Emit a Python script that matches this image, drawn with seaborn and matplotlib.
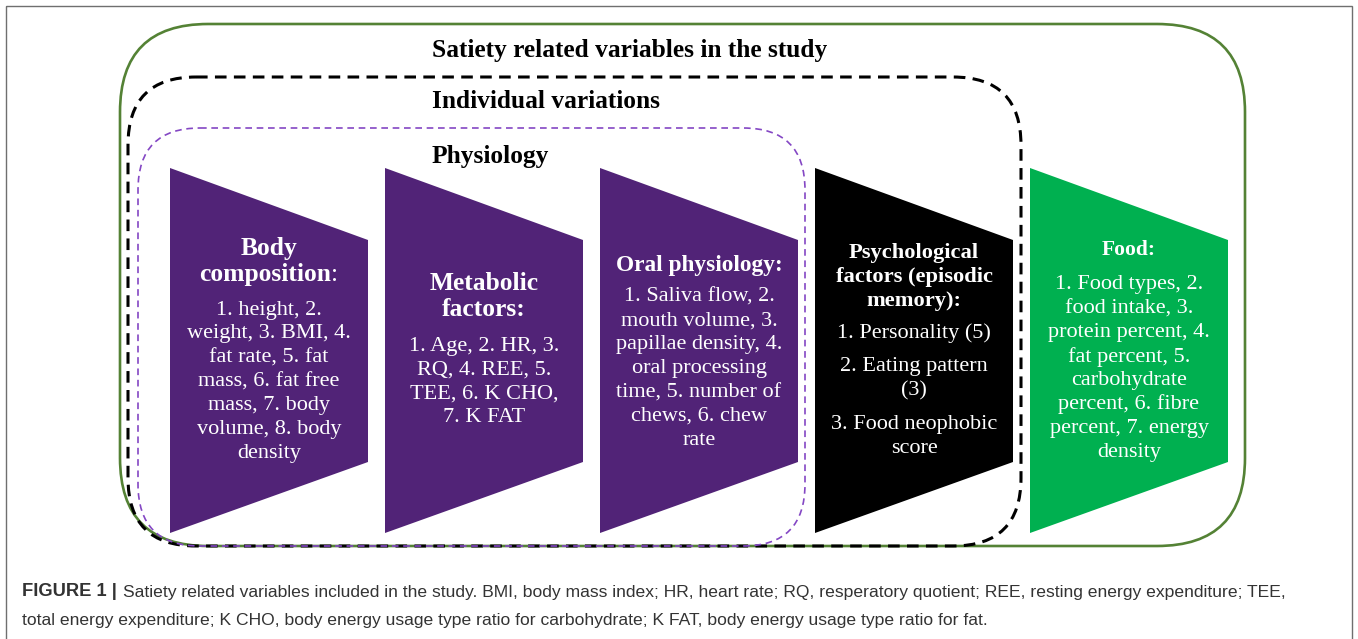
import matplotlib
matplotlib.use("Agg")
import matplotlib.pyplot as plt
from matplotlib.patches import FancyBboxPatch, Polygon, Rectangle
import seaborn as sns

sns.set_theme(style="white")
plt.rcParams['font.family'] = ['Liberation Serif', 'DejaVu Serif']

# ---------------- data ----------------
box_titles = ["Satiety related variables in the study", "Individual variations", "Physiology"]
categories = ["Body composition", "Metabolic factors", "Oral physiology",
              "Psychological factors", "Food"]
headings = [["Body", "composition"],
            ["Metabolic", "factors:"],
            ["Oral physiology:"],
            ["Psychological", "factors (episodic", "memory):"],
            ["Food:"]]
heading_suffix = [":", "", "", "", ""]
items = [[["1. height, 2.", "weight, 3. BMI, 4.", "fat rate, 5. fat", "mass, 6. fat free",
           "mass, 7. body", "volume, 8. body", "density"]],
         [["1. Age, 2. HR, 3.", "RQ, 4. REE, 5.", "TEE, 6. K CHO,", "7. K FAT"]],
         [["1. Saliva flow, 2.", "mouth volume, 3.", "papillae density, 4.", "oral processing",
           "time, 5. number of", "chews, 6. chew", "rate"]],
         [["1. Personality (5)"], ["2. Eating pattern", "(3)"], ["3. Food neophobic", "score"]],
         [["1. Food types, 2.", "food intake, 3.", "protein percent, 4.", "fat percent, 5.",
           "carbohydrate", "percent, 6. fibre", "percent, 7. energy", "density"]]]
shape_colors = ["#512377", "#512377", "#512377", "#000000", "#00B050"]
caption_bold = "FIGURE 1 |"
caption_lines = ["Satiety related variables included in the study. BMI, body mass index; HR, heart rate; RQ, resperatory quotient; REE, resting energy expenditure; TEE,",
                 "total energy expenditure; K CHO, body energy usage type ratio for carbohydrate; K FAT, body energy usage type ratio for fat."]

# ---------------- layout ----------------
W, H = 1358, 639
fig = plt.figure(figsize=(W / 100, H / 100), dpi=100)
ax = fig.add_axes([0, 0, 1, 1])
ax.set_xlim(0, W)
ax.set_ylim(H, 0)
ax.axis("off")
renderer = fig.canvas.get_renderer()

# outer frame
ax.add_patch(Rectangle((6, 6), 1346, 650, fill=False, edgecolor="#6f6f6f", lw=1.0))

# container boxes
ax.add_patch(FancyBboxPatch((120, 24), 1125, 522, boxstyle="round,pad=0,rounding_size=88",
                            fill=False, edgecolor="#548235", lw=1.9))
ax.add_patch(FancyBboxPatch((128, 77), 893, 469, boxstyle="round,pad=0,rounding_size=68",
                            fill=False, edgecolor="black", lw=2.2, linestyle=(0, (3.8, 2.4))))
ax.add_patch(FancyBboxPatch((138, 128), 667, 418, boxstyle="round,pad=0,rounding_size=62",
                            fill=False, edgecolor="#8447C4", lw=1.2, linestyle=(0, (4.0, 2.8))))

title_y = [50, 102, 157]
for t, y in zip(box_titles, title_y):
    ax.text(432, y, t, ha="left", va="center", fontsize=18.3, fontweight="bold", color="black")

# trapezoids
left0, pitch, width = 170, 215, 198
y_tl, y_bl, y_tr, y_br = 168, 533, 240, 462
head_top = [248, 284, 266, 253, 250]
head_gap = [27, 26, 24, 24, 24]
head_size = [18.4, 18.4, 16.8, 16.2, 15.5]
body_top = [310, 346, 297, 333, 285]
line_gap = 23.9
group_gap = 10

for i, cat in enumerate(categories):
    x0 = left0 + i * pitch
    poly = Polygon([(x0, y_tl), (x0 + width, y_tr), (x0 + width, y_br), (x0, y_bl)],
                   closed=True, facecolor=shape_colors[i], edgecolor="none")
    ax.add_patch(poly)
    cx = x0 + width / 2
    nh = len(headings[i])
    for j, h in enumerate(headings[i]):
        yy = head_top[i] + j * head_gap[i]
        if j == nh - 1 and heading_suffix[i]:
            # bold word followed by a regular-weight suffix, centred together
            t1 = ax.text(0, yy, h, ha="left", va="center", fontsize=head_size[i],
                         fontweight="bold", color="white")
            t2 = ax.text(0, yy, heading_suffix[i], ha="left", va="center",
                         fontsize=head_size[i], color="white")
            w1 = t1.get_window_extent(renderer=renderer).width
            w2 = t2.get_window_extent(renderer=renderer).width
            start = cx - (w1 + w2) / 2
            t1.set_x(start)
            t2.set_x(start + w1)
        else:
            ax.text(cx, yy, h, ha="center", va="center",
                    fontsize=head_size[i], fontweight="bold", color="white")
    y = body_top[i]
    for g, group in enumerate(items[i]):
        if g > 0:
            y += group_gap
        for line in group:
            ax.text(cx, y, line, ha="center", va="center", fontsize=16, color="white")
            y += line_gap

# caption
cap_font = ['Liberation Sans', 'DejaVu Sans']
tb = ax.text(22, 592, caption_bold, ha="left", va="center", fontsize=13.2,
             fontweight="bold", family=cap_font, color="#333333")
bb = tb.get_window_extent(renderer=renderer)
x_after = bb.x1 + 6
ax.text(x_after, 592, caption_lines[0], ha="left", va="center", fontsize=12.6,
        family=cap_font, color="#333333")
ax.text(22, 620, caption_lines[1], ha="left", va="center", fontsize=12.6,
        family=cap_font, color="#333333")

fig.savefig("out.png", dpi=100)
